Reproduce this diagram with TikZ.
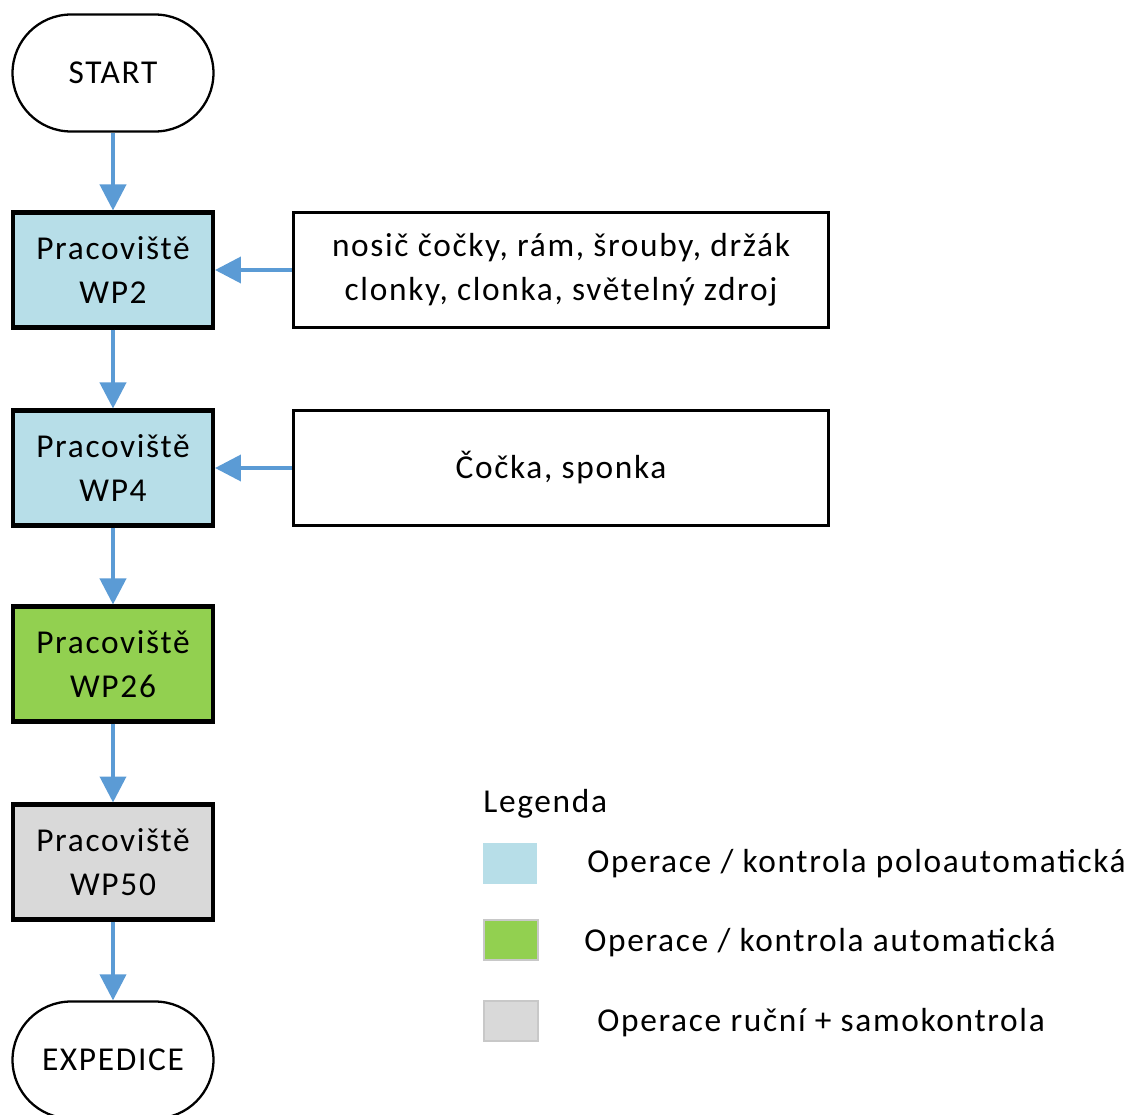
\documentclass[tikz,border=0pt]{standalone}
\usepackage{fontspec}
\setmainfont{Carlito}[LetterSpace=5]
\usepackage{tikz}
\usetikzlibrary{positioning,arrows.meta}
\definecolor{flowblue}{HTML}{5B9BD5}
\definecolor{semiblue}{HTML}{B7DEE8}
\definecolor{autogreen}{HTML}{92D050}
\definecolor{handgray}{HTML}{D9D9D9}
\definecolor{legframe}{HTML}{C8C8C8}
\tikzset{
  flowarrow/.style={-{Triangle[length=0.52cm, width=0.52cm]}, line width=2.2pt, draw=flowblue},
  terminal/.style={draw, line width=1.3pt, rounded corners=1.17cm, minimum width=4.02cm, minimum height=2.34cm, align=center},
  station/.style={draw, line width=2.3pt, minimum width=4.0cm, minimum height=2.3cm, align=center},
  partbox/.style={draw, line width=2pt, minimum width=10.7cm, minimum height=2.3cm, align=center},
  legbox/.style={minimum width=1.1cm, minimum height=0.82cm, inner sep=0pt},
  legframed/.style={legbox, draw=legframe, line width=1.6pt, minimum width=1.08cm, minimum height=0.8cm},
  legtext/.style={anchor=west, inner sep=0pt}
}

\begin{document}
\begin{tikzpicture}[x=0.02cm, y=-0.02cm, every node/.style={font=\fontsize{19}{25}\selectfont}]
  \useasboundingbox (0,0) rectangle (1140,1115);
  \node[terminal] (start) at (113,73) {START};
  \node[station, fill=semiblue] (wp2) at (113,270) {Pracoviště\\WP2};
  \node[partbox] (parts2) at (561,270) {nosič čočky, rám, šrouby, držák\\clonky, clonka, světelný zdroj};
  \node[station, fill=semiblue] (wp4) at (113,468) {Pracoviště\\WP4};
  \node[partbox] (parts4) at (561,468) {Čočka, sponka};
  \node[station, fill=autogreen] (wp26) at (113,664) {Pracoviště\\WP26};
  \node[station, fill=handgray] (wp50) at (113,862) {Pracoviště\\WP50};
  \node[terminal] (expedice) at (113,1060) {EXPEDICE};
  \draw[flowarrow] (start) -- (wp2);
  \draw[flowarrow] (wp2) -- (wp4);
  \draw[flowarrow] (wp4) -- (wp26);
  \draw[flowarrow] (wp26) -- (wp50);
  \draw[flowarrow] (wp50) -- (expedice);
  \draw[flowarrow] (parts2) -- (wp2);
  \draw[flowarrow] (parts4) -- (wp4);
  % legenda
  \node[legtext] (legend) at (483,804) {Legenda};
  \node[legbox, fill=semiblue] (legsemi) at (510,863) {};
  \node[legframed, fill=autogreen] (legauto) at (511,940) {};
  \node[legframed, fill=handgray] (leghand) at (511,1021) {};
  \node[legtext] (legsemitext) at (587,864) {Operace / kontrola poloautomatická};
  \node[legtext] (legautotext) at (584,943) {Operace / kontrola automatická};
  \node[legtext] (leghandtext) at (597,1023) {Operace ruční + samokontrola};
\end{tikzpicture}
\end{document}
